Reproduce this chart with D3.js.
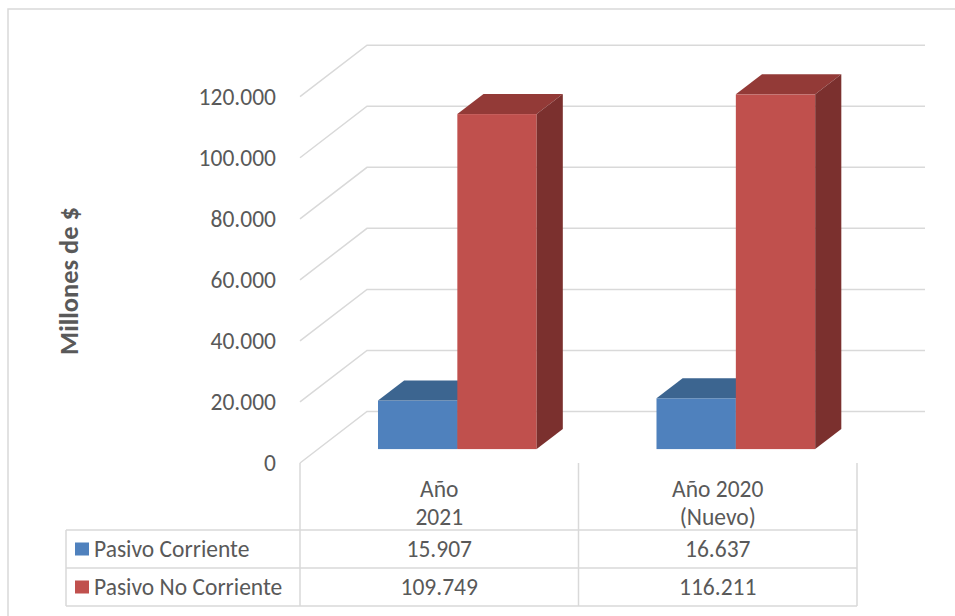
<!DOCTYPE html>
<html>
<head>
<meta charset="utf-8">
<script src="https://cdn.jsdelivr.net/npm/d3@7"></script>
<style>
  html, body { margin: 0; padding: 0; background: #fff; }
  svg { display: block; }
  text { font-family: Carlito, Calibri, "Open Sans", sans-serif; fill: #595959; }
</style>
</head>
<body>
<svg id="chart" width="955" height="616"></svg>
<script>
// ---- data ----
const categories = ["Año 2021", "Año 2020 (Nuevo)"];
const categoryLines = [["Año", "2021"], ["Año 2020", "(Nuevo)"]];
const series = ["Pasivo Corriente", "Pasivo No Corriente"];
const pasivoCorriente = [15907, 16637];
const pasivoNoCorriente = [109749, 116211];
const yTickValues = [0, 20000, 40000, 60000, 80000, 100000, 120000];
const yTitle = "Millones de $";

const seriesValues = [pasivoCorriente, pasivoNoCorriente];
const colors = [
  { front: "#4F81BD", top: "#3C6590", side: "#385D8A" },
  { front: "#C0504D", top: "#933A37", side: "#7B302E" }
];

// ---- layout ----
const svg = d3.select("#chart");
const fmt = d3.formatLocale({ decimal: ",", thousands: ".", grouping: [3], currency: ["$", ""] }).format(",d");

const frontX0 = 300, frontX1 = 857;
const floorY = 463;
const DX = 67, DY = 51.5;          // full depth offset
const barFront = 0.27, barDepth = 0.39;
const gridColor = "#D9D9D9";
const fs = 23.5;

const y = d3.scaleLinear().domain([0, 120000]).range([floorY, 96.7]);
const x = d3.scaleBand().domain(categories).range([frontX0, frontX1]).paddingInner(0).paddingOuter(0);
const xs = d3.scaleBand().domain(series).range([0, x.bandwidth()]).paddingInner(0).paddingOuter(0.755);

// outer border
svg.append("rect").attr("x", 8).attr("y", 9).attr("width", 980).attr("height", 640)
  .attr("fill", "none").attr("stroke", gridColor).attr("stroke-width", 1.5);

// gridlines (side wall + back wall)
const backX1 = frontX1 + DX + 1;
svg.append("g").selectAll("polyline").data(yTickValues).join("polyline")
  .attr("points", d => {
    const yf = y(d), yb = y(d) - DY;
    return `${frontX0},${yf} ${frontX0 + DX},${yb} ${backX1},${yb}`;
  })
  .attr("fill", "none").attr("stroke", gridColor).attr("stroke-width", 1.5);

// y tick labels
svg.append("g").selectAll("text").data(yTickValues).join("text")
  .attr("x", 276).attr("y", d => y(d)).attr("dy", "0.35em")
  .attr("text-anchor", "end").attr("font-size", fs)
  .text(d => fmt(d));

// y title
svg.append("text")
  .attr("transform", "translate(69,281) rotate(-90)")
  .attr("text-anchor", "middle").attr("dy", "0.35em")
  .attr("font-size", 26.5).attr("font-weight", "bold")
  .text(yTitle);

// bars
const bars = svg.append("g");
categories.forEach((c, ci) => {
  series.forEach((s, si) => {
    const v = seriesValues[si][ci];
    const xl = x(c) + xs(s) + barFront * DX;
    const xr = xl + xs.bandwidth();
    const yt = y(v) - barFront * DY;
    const yb = y(0) - barFront * DY;
    const ddx = barDepth * DX, ddy = barDepth * DY;
    const col = colors[si];
    bars.append("rect").attr("x", xl).attr("y", yt).attr("width", xr - xl).attr("height", yb - yt)
      .attr("fill", col.front);
    bars.append("polygon")
      .attr("points", `${xl},${yt} ${xr},${yt} ${xr + ddx},${yt - ddy} ${xl + ddx},${yt - ddy}`)
      .attr("fill", col.top);
    bars.append("polygon")
      .attr("points", `${xr},${yt} ${xr + ddx},${yt - ddy} ${xr + ddx},${yb - ddy} ${xr},${yb}`)
      .attr("fill", col.side);
  });
});

// data table
const tbl = svg.append("g");
const tableLeft = 66, rowTop = [530, 568], tableBottom = 606, tableTop = floorY;
const colEdges = [frontX0].concat(categories.map(c => x(c) + x.bandwidth()));
colEdges.forEach(cx => {
  tbl.append("line").attr("x1", cx).attr("x2", cx).attr("y1", tableTop).attr("y2", tableBottom)
    .attr("stroke", gridColor).attr("stroke-width", 1.5);
});
tbl.append("line").attr("x1", tableLeft).attr("x2", tableLeft).attr("y1", rowTop[0]).attr("y2", tableBottom)
  .attr("stroke", gridColor).attr("stroke-width", 1.5);
rowTop.concat([tableBottom]).forEach(ry => {
  tbl.append("line").attr("x1", tableLeft).attr("x2", frontX1).attr("y1", ry).attr("y2", ry)
    .attr("stroke", gridColor).attr("stroke-width", 1.5);
});
// header labels
categories.forEach((c, ci) => {
  const cx = x(c) + x.bandwidth() / 2;
  categoryLines[ci].forEach((ln, li) => {
    tbl.append("text").attr("x", cx).attr("y", 497 + li * 28)
      .attr("text-anchor", "middle").attr("font-size", fs).text(ln);
  });
});
// rows
series.forEach((s, si) => {
  const cy = rowTop[si] + 19;
  tbl.append("rect").attr("x", 75).attr("y", cy - 6.5).attr("width", 14).attr("height", 13)
    .attr("fill", colors[si].front);
  tbl.append("text").attr("x", 94).attr("y", cy).attr("dy", "0.35em")
    .attr("font-size", fs).text(s);
  categories.forEach((c, ci) => {
    tbl.append("text").attr("x", x(c) + x.bandwidth() / 2).attr("y", cy).attr("dy", "0.35em")
      .attr("text-anchor", "middle").attr("font-size", fs).text(fmt(seriesValues[si][ci]));
  });
});
</script>
</body>
</html>
